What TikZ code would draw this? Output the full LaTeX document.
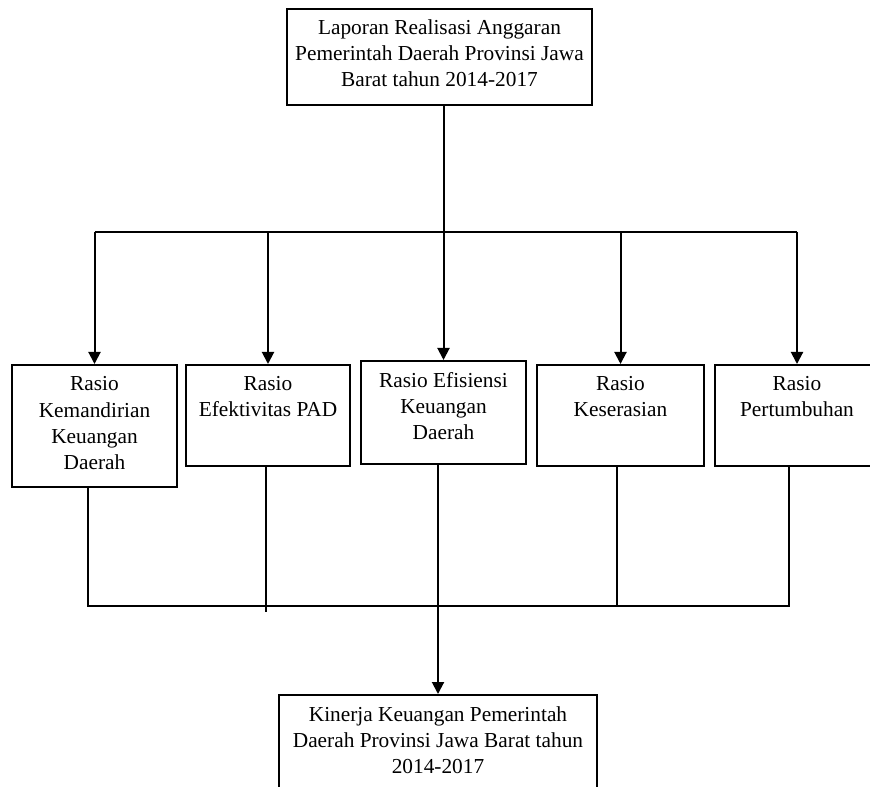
\documentclass[tikz,border=0pt]{standalone}
\usepackage{fontspec}
\setmainfont{Liberation Serif}
\usetikzlibrary{arrows.meta}

% isi kotak: lebar, tinggi, teks (rata atas)
\newcommand{\isi}[3]{\parbox[c][#2][t]{#1}{\centering\fontsize{16}{19.5}\selectfont\rule{0pt}{19.5pt}#3}}

\tikzset{
  kotak/.style={draw, line width=1.5pt, inner sep=0pt, anchor=north},
  garis/.style={line width=1.5pt},
  panah/.style={garis, -{Triangle[length=9pt,width=9pt]}}
}

\begin{document}
\begin{tikzpicture}[x=0.75pt, y=-0.75pt]
\clip (0,0) rectangle (870,787);

% kotak atas
\node[kotak] (lra) at (439.5,8) {\isi{228.75pt}{72pt}{Laporan Realisasi Anggaran\\ Pemerintah Daerah Provinsi Jawa\\ Barat tahun 2014-2017}};

% rasio
\node[kotak] (r1) at (94.5,364) {\isi{123.75pt}{91.5pt}{Rasio\\ Kemandirian\\ Keuangan\\ Daerah}};
\node[kotak] (r2) at (268,364) {\isi{123pt}{75.75pt}{Rasio\\ Efektivitas PAD}};
\node[kotak] (r3) at (443.5,360) {\isi{123.75pt}{77.25pt}{Rasio Efisiensi\\ Keuangan\\ Daerah}};
\node[kotak] (r4) at (620.5,364) {\isi{125.25pt}{75.75pt}{Rasio\\ Keserasian}};
\node[kotak] (r5) at (797,364) {\isi{123.75pt}{75.75pt}{Rasio\\ Pertumbuhan}};

% kotak bawah
\node[kotak] (kin) at (438,694) {\isi{238.5pt}{82.5pt}{Kinerja Keuangan Pemerintah\\ Daerah Provinsi Jawa Barat tahun\\ 2014-2017}};

% cabang atas
\coordinate (cab) at (0,232);
\draw[garis] (r1.north |- cab) -- (r5.north |- cab);
\draw[panah] (lra.south -| r3.north) -- (r3.north);
\foreach \r in {r1,r2,r4,r5}
  \draw[panah] (\r.north |- cab) -- (\r.north);

% gabung bawah
\coordinate (g1) at (88,606);
\coordinate (g2) at (266,612);
\coordinate (g4) at (617,606);
\coordinate (g5) at (789,606);
\draw[garis] (r1.south -| g1) -- (g1) -- (g5) -- (r5.south -| g5);
\draw[garis] (r2.south -| g2) -- (g2);
\draw[garis] (r4.south -| g4) -- (g4);
\draw[panah] (r3.south -| kin.north) -- (kin.north);
\end{tikzpicture}
\end{document}
